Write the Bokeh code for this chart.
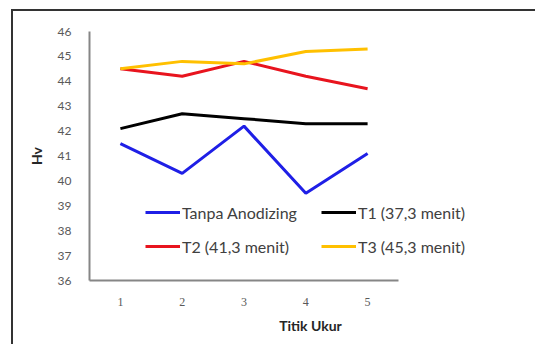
from bokeh.plotting import figure
from bokeh.models import FixedTicker, Legend, LegendItem, Range1d
from bokeh.embed import file_html
from bokeh.resources import INLINE

# ---- data ----
titik = [1, 2, 3, 4, 5]
tanpa_anodizing = [41.5, 40.3, 42.2, 39.5, 41.1]
t1 = [42.1, 42.7, 42.5, 42.3, 42.3]
t2 = [44.5, 44.2, 44.8, 44.2, 43.7]
t3 = [44.5, 44.8, 44.7, 45.2, 45.3]
y_ticks = list(range(36, 47))
series_names = ["Tanpa Anodizing", "T1 (37,3 menit)", "T2 (41,3 menit)", "T3 (45,3 menit)"]
colors = ["#1f1fe6", "#000000", "#e8141e", "#ffc000"]

p = figure(width=535, height=344, output_backend="svg", toolbar_location=None,
           x_range=Range1d(0.5, 7.652), y_range=Range1d(36, 46),
           min_border_left=89, min_border_right=4, min_border_top=31, min_border_bottom=64)
p.outline_line_color = None
p.grid.grid_line_color = None
p.background_fill_color = "white"
p.border_fill_color = None
# outer chart border (dark left/top edge), drawn behind the transparent canvas border area
p.styles = {
    "background-image": "linear-gradient(#333333, #333333), linear-gradient(#333333, #333333)",
    "background-size": "2px 600px, 700px 2px",
    "background-position": "left 11px top 9px, left 11px top 9px",
    "background-repeat": "no-repeat, no-repeat",
}

renderers = []
for ys, c in zip([tanpa_anodizing, t1, t2, t3], colors):
    r = p.line(titik, ys, line_color=c, line_width=3)
    renderers.append(r)

# axes
p.xaxis.ticker = FixedTicker(ticks=titik)
p.yaxis.ticker = FixedTicker(ticks=y_ticks)
p.xaxis.bounds = (0.5, 5.5)
for ax in (p.xaxis, p.yaxis):
    ax.major_tick_line_color = None
    ax.minor_tick_line_color = None
    ax.axis_line_color = "#868686"
    ax.axis_line_width = 2
    ax.major_label_text_color = "#595959"
    ax.major_label_text_font_size = "12px"
    ax.axis_label_text_font = "Lato"
    ax.axis_label_text_font_style = "bold"
    ax.axis_label_text_font_size = "14px"
    ax.axis_label_text_color = "#262626"
p.yaxis.major_label_text_font = "Lato"
p.xaxis.major_label_text_font = "Liberation Serif"
p.yaxis.major_label_standoff = 12
p.xaxis.major_label_standoff = 11
p.yaxis.axis_label = "Hv"
p.xaxis.axis_label = "Titik Ukur"
p.yaxis.axis_label_standoff = 10
p.xaxis.axis_label_standoff = 8

def make_legend(items, loc):
    lg = Legend(items=items, location=loc, orientation="vertical")
    lg.background_fill_alpha = 0
    lg.border_line_alpha = 0
    lg.padding = 0
    lg.margin = 0
    lg.spacing = 14
    lg.glyph_width = 35
    lg.glyph_height = 20
    lg.label_height = 20
    lg.label_standoff = 2
    lg.label_text_font = "Lato"
    lg.label_text_font_size = "16px"
    lg.label_text_color = "#404040"
    return lg

leg1 = make_legend([LegendItem(label=series_names[0], renderers=[renderers[0]]),
                    LegendItem(label=series_names[2], renderers=[renderers[2]])], (56, 24))
leg2 = make_legend([LegendItem(label=series_names[1], renderers=[renderers[1]]),
                    LegendItem(label=series_names[3], renderers=[renderers[3]])], (232, 24))
p.add_layout(leg1, "center")
p.add_layout(leg2, "center")

open("out.html", "w").write(file_html(p, INLINE))
